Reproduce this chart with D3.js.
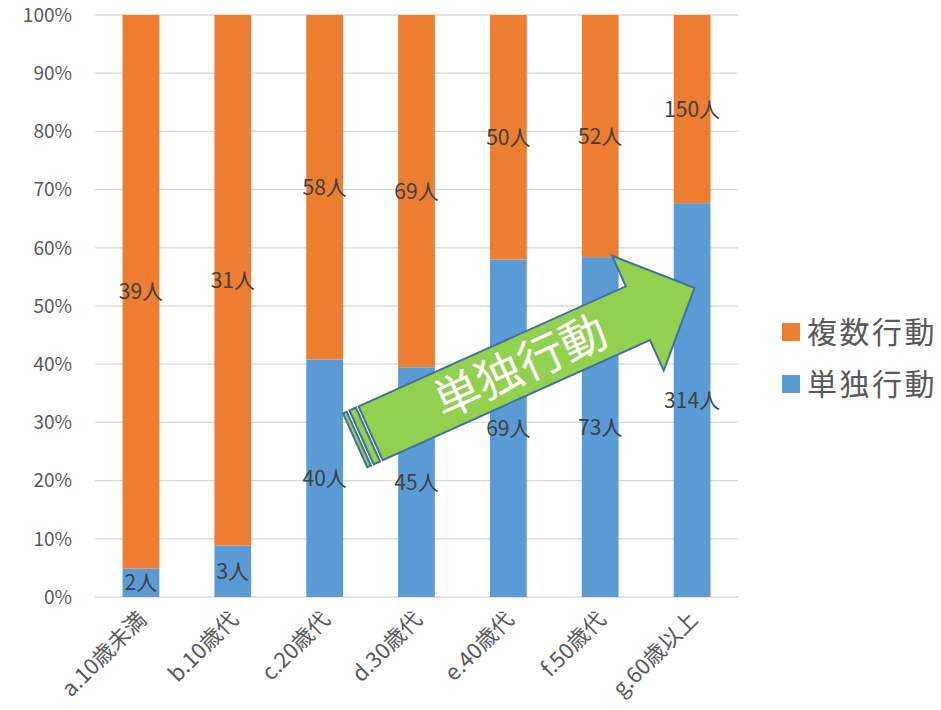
<!DOCTYPE html>
<html><head><meta charset="utf-8">
<script src="https://cdn.jsdelivr.net/npm/d3@7"></script>
<style>
body{margin:0;background:#fff;}
svg{font-family:"Noto Sans CJK JP","Noto Sans",sans-serif;}
</style></head>
<body>
<svg id="c" width="941" height="710"></svg>
<script>
const categories = ["a.10歳未満","b.10歳代","c.20歳代","d.30歳代","e.40歳代","f.50歳代","g.60歳以上"];
const single = [2,3,40,45,69,73,314];      // 単独行動
const multiple = [39,31,58,69,50,52,150];  // 複数行動
const seriesNames = ["単独行動","複数行動"];
const colors = {"単独行動":"#5B9BD5","複数行動":"#ED7D31"};
const yTicks = [0,0.1,0.2,0.3,0.4,0.5,0.6,0.7,0.8,0.9,1];

const svg = d3.select("#c");
const L=95, R=738, T=15, B=597;
const x = d3.scaleBand().domain(categories).range([L,R]).paddingInner(0.6).paddingOuter(0.3);
const y = d3.scaleLinear().domain([0,1]).range([B,T]);

// gridlines
svg.append("g").selectAll("line").data(yTicks).join("line")
  .attr("x1",L).attr("x2",R).attr("y1",d=>y(d)).attr("y2",d=>y(d))
  .attr("stroke","#D9D9D9").attr("stroke-width",1.3);

// y labels
svg.append("g").selectAll("text").data(yTicks).join("text")
  .attr("x",72).attr("y",d=>y(d)).attr("dy","0.36em").attr("text-anchor","end")
  .attr("font-size",19).attr("fill","#595959")
  .text(d=>d3.format(".0%")(d));

const data = categories.map((c,i)=>({cat:c,"単独行動":single[i],"複数行動":multiple[i]}));
const stack = d3.stack().keys(seriesNames).offset(d3.stackOffsetExpand);
const layers = stack(data);

const g = svg.append("g");
layers.forEach(layer=>{
  g.append("g").selectAll("rect").data(layer).join("rect")
    .attr("x",d=>x(d.data.cat)).attr("width",x.bandwidth())
    .attr("y",d=>y(d[1])).attr("height",d=>y(d[0])-y(d[1]))
    .attr("fill",colors[layer.key]);
});
// data labels
layers.forEach(layer=>{
  g.append("g").selectAll("text").data(layer).join("text")
    .attr("x",d=>x(d.data.cat)+x.bandwidth()/2)
    .attr("y",d=>y((d[0]+d[1])/2)).attr("dy","0.36em")
    .attr("text-anchor","middle").attr("font-size",21).attr("fill","#404040")
    .text(d=>d.data[layer.key]+"人");
});

// x labels
svg.append("g").selectAll("text").data(categories).join("text")
  .attr("transform",d=>`translate(${x(d)+x.bandwidth()/2+7},${621}) rotate(-45)`)
  .attr("text-anchor","end").attr("font-size",22).attr("fill","#595959")
  .text(d=>d);

// legend
const leg = svg.append("g");
[["複数行動",332],["単独行動",384]].forEach(([k,cy])=>{
  leg.append("rect").attr("x",782).attr("y",cy-9).attr("width",18).attr("height",18).attr("fill",colors[k]);
  leg.append("text").attr("x",807).attr("y",cy).attr("dy","0.36em").attr("font-size",30)
    .attr("letter-spacing",2.5).attr("fill","#595959").text(k);
});

// striped arrow annotation
const ar = svg.append("g").attr("transform","translate(372.5,432.5) rotate(-24.2)");
const st = {fill:"#92D050",stroke:"#41719C","stroke-width":2};
function apply(sel){Object.entries(st).forEach(([k,v])=>sel.attr(k,v));return sel;}
apply(ar.append("rect").attr("x",-19).attr("y",-29.5).attr("width",4).attr("height",59));
apply(ar.append("rect").attr("x",-12).attr("y",-29.5).attr("width",7).attr("height",59));
apply(ar.append("path").attr("d","M-2,-29.5 L291,-29.5 L291,-63 L353,0 L291,63 L291,29.5 L-2,29.5 Z").attr("stroke-linejoin","miter"));
ar.append("text").attr("x",162).attr("y",0).attr("dy","0.36em").attr("text-anchor","middle")
  .attr("font-size",46).attr("fill","#fff").text("単独行動");
</script>
</body></html>
